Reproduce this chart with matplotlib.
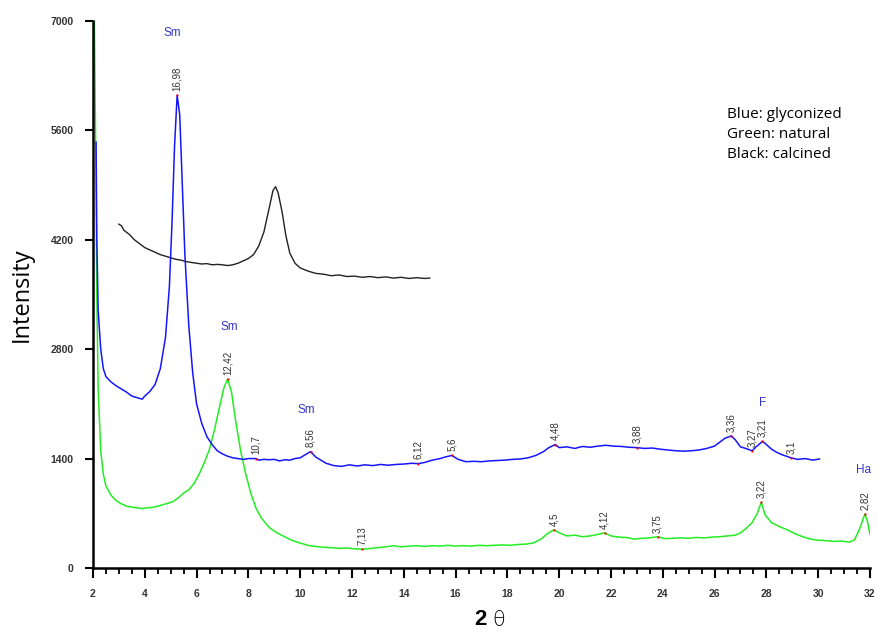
import matplotlib.pyplot as plt
import numpy as np

# glyconized (blue)
blue_x = [2.12, 2.15, 2.2, 2.3, 2.4, 2.5, 2.7, 2.9, 3.1, 3.3, 3.5, 3.7, 3.9, 4.0,
          4.2, 4.4, 4.6, 4.8, 4.95, 5.05, 5.15, 5.25, 5.35, 5.45, 5.55, 5.7, 5.85,
          6.0, 6.2, 6.4, 6.6, 6.8, 7.0, 7.2, 7.4, 7.6, 7.8, 8.0, 8.3, 8.4, 8.6, 8.8,
          9.0, 9.2, 9.4, 9.6, 9.8, 10.0, 10.2, 10.4, 10.6, 10.8, 11.0, 11.3, 11.6,
          11.9, 12.2, 12.5, 12.8, 13.1, 13.4, 13.7, 14.0, 14.3, 14.55, 14.8, 15.1,
          15.4, 15.6, 15.85, 16.1, 16.4, 16.7, 17.0, 17.3, 17.6, 17.9, 18.2, 18.5,
          18.8, 19.1, 19.4, 19.6, 19.85, 20.0, 20.3, 20.6, 20.9, 21.2, 21.5, 21.8,
          22.1, 22.4, 22.7, 23.0, 23.3, 23.6, 23.9, 24.2, 24.5, 24.8, 25.1, 25.4,
          25.7, 26.0, 26.2, 26.4, 26.65, 26.8, 27.0, 27.2, 27.45, 27.6, 27.85, 28.0,
          28.2, 28.4, 28.6, 28.95, 29.2, 29.5, 29.8, 30.05]
blue_y = [5450, 4200, 3300, 2800, 2550, 2450, 2380, 2330, 2290, 2250, 2200, 2180, 2160, 2200,
          2260, 2350, 2550, 2950, 3600, 4400, 5400, 6050, 5800, 4900, 4000, 3100, 2500,
          2100, 1850, 1680, 1580, 1500, 1460, 1430, 1410, 1400, 1390, 1400, 1400, 1380, 1390, 1385,
          1390, 1370, 1385, 1380, 1400, 1410, 1450, 1490, 1420, 1380, 1340, 1310, 1300,
          1320, 1305, 1320, 1310, 1325, 1315, 1325, 1330, 1340, 1335, 1350, 1380,
          1400, 1420, 1440, 1390, 1360, 1365, 1360, 1370, 1375, 1380, 1390, 1395,
          1410, 1440, 1490, 1540, 1580, 1540, 1550, 1530, 1555, 1545, 1560, 1570,
          1560, 1555, 1545, 1540, 1530, 1535, 1520, 1510, 1500, 1495, 1500, 1510,
          1530, 1560, 1610, 1660, 1690, 1640, 1550, 1530, 1500, 1550, 1620, 1580,
          1520, 1480, 1450, 1410, 1390, 1400, 1380, 1395]

# natural (green)
green_x = [2.05, 2.1, 2.15, 2.2, 2.3, 2.4, 2.5, 2.7, 2.9, 3.1, 3.3, 3.5, 3.7, 3.9, 4.1,
           4.3, 4.5, 4.7, 4.9, 5.1, 5.3, 5.5, 5.7, 5.9, 6.1, 6.3, 6.5, 6.7, 6.9, 7.05,
           7.2, 7.35, 7.5, 7.7, 7.9, 8.1, 8.3, 8.5, 8.8, 9.1, 9.4, 9.7, 10.0, 10.3, 10.6,
           10.9, 11.2, 11.5, 11.8, 12.1, 12.4, 12.7, 13.0, 13.3, 13.6, 13.9, 14.2, 14.5,
           14.8, 15.1, 15.4, 15.7, 16.0, 16.3, 16.6, 16.9, 17.2, 17.5, 17.8, 18.1, 18.4,
           18.7, 19.0, 19.3, 19.55, 19.8, 20.0, 20.3, 20.6, 20.9, 21.2, 21.5, 21.75, 22.0,
           22.3, 22.6, 22.9, 23.2, 23.5, 23.8, 24.1, 24.4, 24.7, 25.0, 25.3, 25.6, 25.9,
           26.2, 26.5, 26.8, 27.0, 27.2, 27.45, 27.65, 27.8, 27.95, 28.2, 28.5, 28.8,
           29.1, 29.4, 29.7, 30.0, 30.3, 30.6, 30.9, 31.2, 31.4, 31.6, 31.8, 31.9, 32.0]
green_y = [7200, 5500, 3500, 2300, 1500, 1200, 1050, 930, 860, 820, 790, 780, 770, 760, 770,
           775, 790, 810, 830, 850, 900, 960, 1000, 1080, 1200, 1350, 1520, 1780, 2080, 2300,
           2420, 2250, 1900, 1500, 1200, 950, 760, 640, 520, 450, 400, 350, 320, 290, 275,
           265, 260, 250, 255, 245, 240, 250, 260, 270, 285, 270, 280, 285,
           275, 285, 280, 290, 280, 285, 280, 290, 285, 290, 295, 290, 300,
           305, 320, 370, 440, 490, 450, 410, 420, 400, 410, 430, 450, 410,
           395, 390, 370, 380, 385, 400, 375, 380, 385, 380, 390, 385, 395,
           400, 410, 420, 450, 500, 580, 700, 840, 680, 580, 530, 490,
           440, 400, 370, 355, 350, 340, 345, 330, 360, 500, 690, 600, 430]

# calcined (black)
black_x = [3.0, 3.1, 3.2, 3.4, 3.6, 3.8, 4.0, 4.2, 4.4, 4.6, 4.8, 5.0, 5.2, 5.4, 5.6, 5.8,
           6.0, 6.2, 6.4, 6.6, 6.8, 7.0, 7.2, 7.4, 7.6, 7.8, 8.0, 8.2, 8.4, 8.6, 8.8, 8.95,
           9.05, 9.15, 9.3, 9.45, 9.6, 9.8, 10.0, 10.3, 10.6, 10.9, 11.2, 11.5, 11.8, 12.1,
           12.4, 12.7, 13.0, 13.3, 13.6, 13.9, 14.2, 14.5, 14.8, 15.0]
black_y = [4400, 4380, 4320, 4270, 4200, 4150, 4100, 4070, 4040, 4010, 3990, 3970, 3950, 3940,
           3920, 3910, 3900, 3890, 3895, 3880, 3885, 3880, 3870, 3880, 3900, 3930, 3960, 4010,
           4120, 4300, 4600, 4830, 4880, 4800, 4560, 4250, 4030, 3900, 3840, 3800, 3770, 3760,
           3740, 3750, 3730, 3735, 3720, 3730, 3715, 3725, 3710, 3720, 3705, 3715, 3705, 3710]

# peak annotations (d-spacing labels)
blue_peak_x = [5.25, 8.3, 10.4, 14.55, 15.85, 19.85, 23.0, 26.65, 27.45, 27.85, 28.95]
blue_peak_y = [6050, 1400, 1490, 1335, 1440, 1580, 1540, 1690, 1500, 1620, 1410]
blue_peak_lbl = ['16,98', '10,7', '8,56', '6,12', '5,6', '4,48', '3,88', '3,36', '3,27', '3,21', '3,1']
green_peak_x = [7.2, 12.4, 19.8, 21.75, 23.8, 27.8, 31.8]
green_peak_y = [2420, 240, 490, 450, 400, 840, 690]
green_peak_lbl = ['12,42', '7,13', '4,5', '4,12', '3,75', '3,22', '2,82']

phase_x = [5.05, 7.25, 10.25, 27.85, 31.75]
phase_y = [6850, 3080, 2020, 2110, 1250]
phase_lbl = ['Sm', 'Sm', 'Sm', 'F', 'Ha']

fig = plt.figure(figsize=(8.77, 6.42), dpi=100)
ax = fig.add_axes([0.106, 0.1153, 0.886, 0.852])

ax.plot(black_x, black_y, color='#222222', lw=1.0)
ax.plot(green_x, green_y, color='#22ee22', lw=1.1)
ax.plot(blue_x, blue_y, color='#1515ff', lw=1.1)

for xs, ys, lbls in [(blue_peak_x, blue_peak_y, blue_peak_lbl),
                     (green_peak_x, green_peak_y, green_peak_lbl)]:
  ax.plot(xs, ys, ls='none', marker='s', ms=2, color='red', mec='none')
  for x, y, t in zip(xs, ys, lbls):
    ax.annotate(t, (x, y), xytext=(0, 3), textcoords='offset points',
                rotation=90, ha='center', va='bottom', fontsize=7,
                color='#333333', family='Liberation Sans')

for x, y, t in zip(phase_x, phase_y, phase_lbl):
  ax.text(x, y, t, color='#3535c8', fontsize=8.5, ha='center', va='center',
          family='Liberation Sans')

ax.set_xlim(2, 32)
ax.set_ylim(0, 7000)
ax.set_xticks(np.arange(2, 33, 2))
ax.set_xticks(np.arange(2, 32.1, 0.5), minor=True)
ax.set_yticks([0, 1400, 2800, 4200, 5600, 7000])
for s in ['top', 'right']:
  ax.spines[s].set_visible(False)
for s in ['left', 'bottom']:
  ax.spines[s].set_linewidth(1.8)
ax.tick_params(axis='x', which='major', length=7, width=1.5, pad=8)
ax.tick_params(axis='x', which='minor', length=4, width=1.3)
ax.tick_params(axis='y', which='major', length=6, width=1.5, pad=8)
for lab in ax.get_xticklabels() + ax.get_yticklabels():
  lab.set_fontsize(7.5)
  lab.set_fontweight('bold')
  lab.set_color('#333333')
  lab.set_family('Liberation Sans')

ax.set_ylabel('Intensity', fontsize=17, family='Open Sans', labelpad=12)
fig.text(0.555, 0.018, '2', fontsize=16, fontweight='bold', ha='right',
         va='bottom', family='Liberation Sans')
fig.text(0.562, 0.018, 'θ', fontsize=15, ha='left', va='bottom',
         family='DejaVu Sans', fontweight='light')

fig.text(0.829, 0.833, 'Blue: glyconized\nGreen: natural\nBlack: calcined',
         fontsize=11, family='Open Sans', va='top', ha='left', linespacing=1.45)

fig.savefig('out.png', dpi=100)
